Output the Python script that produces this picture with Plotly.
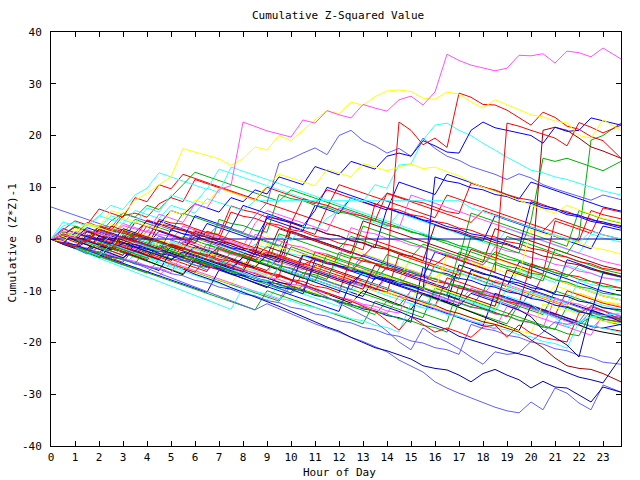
import plotly.graph_objects as go

hours = [h / 2 for h in range(47)] + [23.75]
y_ticks = [-40, -30, -20, -10, 0, 10, 20, 30, 40]
x_ticks = list(range(24))

RED = "#ff0000"; GRN = "#00b000"; BLU = "#0000ff"; MAG = "#ff50ff"; CYN = "#30ffff"
YEL = "#ffff00"; DRD = "#a00000"; DBL = "#0000b0"; SLT = "#6060ff"; BLK = "#000000"

b01 = [0,1.5,0.7,3.2,2.4,1.6,4.5,5.0, 4.2,6.8,8.0,7.2,11.5,10.7,9.9,9.1, 8.3,7.5,10.0,9.2,8.4,7.6,6.8,9.5, 8.7,7.9,7.1,6.3,8.8,8.0,7.2,6.4, 5.6,4.8,4.0,3.2,5.5,4.7,3.9,3.1, 2.3,1.5,4.0,3.2,2.4,1.6,0.8,0.0]
b02 = [0,-0.6,1.0,0.3,2.5,1.8,1.0,3.8, 3.0,2.2,1.4,5.0,4.2,3.4,2.6,1.8, 1.0,0.2,-0.6,-1.4,1.5,0.7,-0.1,-0.9, -1.7,0.5,-0.3,-1.1,-1.9,-2.7,-3.5,-1.0, -1.8,-2.6,-3.4,-4.2,-5.0,-2.5,-3.3,-4.1, -4.9,-5.7,-6.5,-7.3,-5.0,-5.8,-6.6,-7.4]
b03 = [0,-0.9,-1.7,-2.5,-1.0,-1.8,-2.6,-3.4, -0.5,-1.3,-2.1,-2.9,-3.7,-4.5,-5.3,-6.1, -3.5,-4.3,-5.1,-5.9,-6.7,-3.0,-3.8,-4.6, -5.4,-6.2,-7.0,-7.8,-5.5,-6.3,-7.1,-7.9, -8.7,-9.5,-6.0,-6.8,-7.6,-8.4,-9.2,-4.5, -5.3,-6.1,-6.9,-7.7,-8.5,-9.3,-10.1,-10.9]
b04 = [0,0.9,0.1,-0.7,-1.5,0.6,-0.2,-1.0, -1.8,-2.6,-0.8,-1.6,-2.4,-3.2,-4.0,-4.8, -2.0,-2.8,-3.6,-4.4,-5.2,-6.0,-3.5,-4.3, -5.1,-5.9,-6.7,-7.5,-8.3,-9.1,-6.0,-6.8, -7.6,-8.4,-9.2,-10.0,-10.8,-8.0,-8.8,-9.6, -10.4,-11.2,-12.0,-12.8,-10.5,-11.3,-12.1,-12.9]
b05 = [0,-1.0,-1.8,-2.6,-3.4,-4.2,-5.0,-3.0, -3.8,-4.6,-5.4,-6.2,-7.0,-7.8,-8.6,-9.4, -10.2,-11.0,-11.8,-9.0,-9.8,-10.6,-11.4,-12.2, -13.0,-8.5,-9.3,-10.1,-10.9,-11.7,-12.5,-13.3, -10.0,-10.8,-11.6,-12.4,-13.2,-14.0,-9.5,-10.3, -11.1,-11.9,-12.7,-13.5,-14.3,-12.0,-12.8,-13.6]
b06 = [0,0.6,-0.2,-1.0,1.8,1.0,0.2,-0.6, -1.4,-2.2,-3.0,-0.5,-1.3,-2.1,-2.9,-3.7, -4.5,-5.3,-6.1,-3.5,-4.3,-5.1,-5.9,-6.7, -7.5,-8.3,-9.1,-9.9,-7.0,-7.8,-8.6,-9.4, -10.2,-11.0,-11.8,-12.6,-13.4,-14.2,-15.0,-12.0, -12.8,-13.6,-14.4,-15.2,-16.0,-16.8,-17.2,-17.8]
b07 = [0,0.5,2.0,1.2,0.4,3.0,2.2,1.4, 0.6,-0.2,-1.0,2.5,1.7,0.9,0.1,-0.7, -1.5,-2.3,0.5,-0.3,-1.1,-1.9,-2.7,-3.5, -4.3,-2.0,-2.8,-3.6,-4.4,-5.2,-6.0,-6.8, -7.6,-5.0,-5.8,-6.6,-7.4,-8.2,-9.0,-9.8, -10.6,-11.4,-9.0,-9.8,-10.6,-11.4,-12.2,-12.5]
b08 = [0,-0.7,-1.4,0.5,-0.3,-1.1,-1.9,-2.7, -3.5,-1.2,-2.0,-2.8,-3.6,-4.4,-5.2,-6.0, -6.8,-7.6,-8.4,-5.5,-6.3,-7.1,-7.9,-8.7, -9.5,-10.3,-11.1,-7.5,-8.3,-9.1,-9.9,-10.7, -11.5,-12.3,-5.0,-5.8,-6.6,-7.4,-8.2,-9.0, -9.8,-10.6,-11.4,-12.2,-13.0,-13.8,-14.6,-15.2]
b09 = [6.2,5.4,4.6,3.8,3.0,2.2,5.0,4.2, 3.4,2.6,1.8,1.0,0.2,-0.6,-1.4,2.0, 1.2,0.4,-0.4,-1.2,-2.0,-2.8,-3.6,-4.4, -5.2,-6.0,-3.0,-3.8,-4.6,-5.4,-6.2,-7.0, -7.8,-8.6,-9.4,-10.2,-11.0,-11.8,-12.6,-13.4, -10.0,-10.8,-11.6,-12.4,-13.2,-14.0,-14.8,-15.5]
b10 = [0,-0.5,-1.3,-2.1,-2.9,-3.7,-4.5,-1.5, -2.3,-3.1,-3.9,-4.7,-5.5,-6.3,-2.0,-2.8, -3.6,-4.4,-5.2,-6.0,-6.8,-7.6,-2.5,-3.3, -4.1,-4.9,-5.7,-6.5,-7.3,-8.1,-8.9,-9.7, -5.0,-5.8,-6.6,-7.4,-8.2,-9.0,-9.8,-10.6, -11.4,-7.0,-7.8,-8.6,-9.4,-10.2,-11.0,-11.8]
b11 = [0,1.3,0.5,-0.3,-1.1,-1.9,-2.7,-3.5, -4.3,-5.1,-5.9,-6.7,-4.0,-4.8,-5.6,-6.4, -7.2,-8.0,-8.8,-9.6,-10.4,-6.5,-7.3,-8.1, -8.9,-9.7,-10.5,-11.3,-12.1,-12.9,-10.0,-10.8, -11.6,-12.4,-13.2,-14.0,-14.8,-15.6,-16.4,-12.5, -13.3,-14.1,-14.9,-15.7,-16.5,-15.0,-15.8,-16.6]
b12 = [0,2.0,1.2,0.4,-0.4,-1.2,-2.0,1.0, 0.2,3.5,2.7,1.9,1.1,0.3,-0.5,-1.3, -2.1,-2.9,-3.7,-4.5,1.5,0.7,-0.1,-0.9, -1.7,-2.5,-3.3,-4.1,-4.9,-5.7,-6.5,-7.3, -2.5,-3.3,-4.1,-4.9,-5.7,-6.5,-7.3,-8.1, -8.9,-9.7,-10.5,-4.0,-4.8,-5.6,-6.4,-7.2]
b13 = [0,1.8,3.5,2.7,5.8,5.0,4.2,8.0, 7.2,10.5,9.7,12.5,11.7,10.9,10.1,9.3, 8.5,7.7,6.9,6.1,5.3,4.5,3.7,2.9, 2.1,1.3,0.5,-0.3,-1.1,-1.9,-2.7,-3.5, -4.3,-5.1,-5.9,-6.7,-7.5,-8.3,-9.1,-9.9, -10.7,-11.5,-12.3,-13.1,-13.9,-14.7,-15.5,-16.0]
b14 = [0,3.3,2.5,1.7,4.5,6.5,5.7,8.5, 9.8,12.8,12.0,11.2,10.4,9.6,13.5,12.7, 11.9,11.1,10.3,9.5,8.7,7.9,7.1,6.3, 5.5,4.7,3.9,3.1,2.3,5.0,4.2,3.4, 2.6,1.8,1.0,0.2,-0.6,-1.4,2.0,1.2, 0.4,-0.4,-1.2,-2.0,-2.8,1.0,0.2,-0.6]
b15 = [0,-0.6,1.5,0.7,-0.1,-0.9,-1.7,-2.5, 0.5,-0.3,-1.1,-1.9,2.0,1.2,0.4,-0.4, -1.2,-2.0,-2.8,-3.6,-4.4,-5.2,-6.0,-6.8, -7.6,-8.4,-9.2,-10.0,-7.5,-8.3,-9.1,-9.9, -10.7,-11.5,-12.3,-9.5,-10.3,-11.1,-11.9,-12.7, -13.5,-14.3,-15.1,-15.9,-16.7,-17.5,-15.0,-15.8]
b16 = [0,0.8,2.5,1.7,0.9,3.5,5.0,4.2, 6.5,5.7,8.2,10.5,12.9,12.1,11.3,10.5, 9.7,8.9,8.1,7.3,9.5,8.7,7.9,7.1, 6.3,5.5,4.7,3.9,3.1,2.3,1.5,0.7, -0.1,-0.9,-1.7,-2.5,-3.3,-4.1,0.5,-0.3, -1.1,-1.9,-2.7,-3.5,-4.3,-5.1,-5.9,-6.7]
b17 = [0,-0.9,-1.8,-2.7,-3.6,-1.5,-2.4,-3.3, -4.2,-5.1,-6.0,-6.9,-4.0,-4.9,-5.8,-6.7, -7.6,-8.5,-9.4,-7.0,-7.9,-8.8,-9.7,-10.6, -11.5,-12.4,-10.0,-10.9,-11.8,-12.7,-13.6,-10.5, -11.4,-12.3,-13.2,-14.1,-15.0,-15.9,-16.8,-17.7, -13.0,-13.9,-14.8,-15.7,-16.6,-17.5,-18.0,-18.6]
b18 = [0,1.0,0.2,2.2,1.4,0.6,-0.2,3.2, 2.4,1.6,0.8,0.0,4.5,3.7,2.9,2.1, 6.5,5.7,4.9,4.1,3.3,2.5,5.5,10.0, 9.2,8.4,7.6,6.8,6.0,5.2,4.4,3.6, 2.8,2.0,1.2,0.4,-0.4,4.5,3.7,2.9, 2.1,1.3,0.5,-0.3,-1.1,-1.9,2.5,1.7]
b19 = [0,-0.5,-1.3,-2.1,0.5,-0.3,-1.1,-1.9, -2.7,-3.5,-4.3,-1.0,-1.8,-2.6,-3.4,-4.2, -5.0,-5.8,-6.6,-7.4,2.5,1.7,0.9,6.0, 10.5,9.7,8.9,8.1,7.3,6.5,5.7,4.9, 4.1,8.5,7.7,6.9,6.1,5.3,4.5,3.7, 2.9,2.1,1.3,0.5,-0.3,5.5,4.7,3.9]
b20 = [0,-1.0,-1.8,-2.6,-3.4,-4.2,-5.0,-5.8, -6.6,-4.0,-4.8,-5.6,-6.4,-7.2,-8.0,-8.8, -9.6,-10.4,-11.2,-12.0,-9.0,-9.8,-10.6,-11.4, -12.2,-13.0,-13.8,-14.6,-12.0,-12.8,-13.6,-14.4, -15.2,-16.0,-9.0,-9.8,-10.6,-11.4,-12.2,-13.0, -13.8,-14.6,-10.0,-10.8,-11.6,-12.4,-13.2,-14.0]
b21 = [0,0.7,-0.1,-0.9,1.5,0.7,3.0,2.2, 1.4,0.6,-0.2,2.5,1.7,0.9,0.1,-0.7, -1.5,3.0,5.5,4.7,3.9,3.1,2.3,1.5, 6.0,5.2,4.4,3.6,2.8,2.0,8.5,7.7, 6.9,6.1,5.3,4.5,3.7,2.9,2.1,1.3, 0.5,-0.3,-1.1,-1.9,-2.7,-3.5,-4.3,-5.1]
b22 = [0,-0.8,-1.6,0.5,-0.3,-1.1,-1.9,-2.7, -3.5,-4.3,-1.0,-1.8,-2.6,-3.4,-4.2,-5.0, -5.8,-2.5,-3.3,-4.1,-4.9,-5.7,-6.5,-7.3, -4.0,-4.8,-5.6,-6.4,-7.2,-8.0,-3.5,-4.3, -5.1,-5.9,-6.7,-7.5,-8.3,-9.1,-9.9,-6.0, -6.8,-7.6,-8.4,-5.0,-5.8,-6.6,-7.4,-8.2]
b23 = [0,-0.9,-1.7,-2.5,-3.3,-4.1,-1.5,-2.3, -3.1,-3.9,-4.7,-5.5,-6.3,-7.1,-7.9,-8.7, -5.5,-6.3,-7.1,-7.9,-8.7,-9.5,-10.3,-11.1, -7.0,-7.8,-8.6,-9.4,-10.2,-11.0,-11.8,-8.5, -9.3,-10.1,-10.9,-11.7,-12.5,-13.3,-9.0,-9.8, -10.6,-11.4,-12.2,-13.0,-10.5,-11.3,-12.1,-12.9]
b24 = [0,0.8,0.0,-0.8,2.0,1.2,0.4,-0.4, -1.2,1.5,0.7,-0.1,-0.9,3.0,2.2,1.4, 0.6,-0.2,4.0,3.2,2.4,1.6,6.5,5.7, 4.9,8.0,7.2,6.4,5.6,11.0,10.2,9.4, 8.6,12.5,11.7,10.9,10.1,9.3,8.5,7.7, 11.0,10.2,9.4,8.6,7.8,7.0,6.2,5.4]
b25 = [0,-0.6,-1.4,-2.2,-3.0,-0.8,-1.6,-2.4, -3.2,-4.0,-4.8,-5.6,-6.4,-3.5,-4.3,-5.1, -5.9,-6.7,-7.5,-8.3,-9.1,-9.9,-5.0,-5.8, -6.6,-7.4,-8.2,-9.0,-9.8,-10.6,-11.4,-12.2, -13.0,-7.5,-8.3,-9.1,-9.9,-10.7,-11.5,-12.3, -13.1,-13.9,-14.7,-10.0,-10.8,-11.6,-12.4,-13.2]
b26 = [0,0.9,0.1,-0.7,-1.5,-2.3,-3.1,-0.5, -1.3,-2.1,-2.9,-3.7,-4.5,-5.3,-1.0,-1.8, -2.6,-3.4,-4.2,-5.0,-5.8,-6.6,-7.4,-8.2, -9.0,-9.8,-6.0,-6.8,-7.6,-8.4,-9.2,-10.0, -10.8,-11.6,-12.4,-13.2,-10.0,-10.8,-11.6,-12.4, -13.2,-14.0,-14.8,-15.6,-16.4,-14.0,-14.8,-15.6]
b27 = [0,0.5,-0.3,-1.1,-1.9,1.0,0.2,-0.6, -1.4,-2.2,-3.0,0.5,-0.3,-1.1,-1.9,-2.7, -3.5,-4.3,-5.1,1.0,0.2,-0.6,-1.4,-2.2, -3.0,-3.8,2.5,1.7,0.9,0.1,-0.7,-1.5, -2.3,-3.1,-3.9,5.0,4.2,3.4,2.6,1.8, 1.0,0.2,-0.6,-1.4,5.5,4.7,3.9,3.1]
b28 = [0,-0.8,-1.6,-2.4,-3.2,-4.0,-4.8,-5.6, -6.4,-7.2,-4.5,-5.3,-6.1,-6.9,-7.7,-8.5, -9.3,-10.1,-10.9,-11.7,-8.0,-8.8,-9.6,-10.4, -11.2,-12.0,-12.8,-13.6,-14.4,-11.0,-11.8,-12.6, -13.4,-14.2,-15.0,-15.8,-16.6,-17.4,-13.0,-13.8, -14.6,-15.4,-16.2,-17.0,-17.8,-18.6,-14.5,-15.3]
b29 = [0,1.2,0.4,-0.4,-1.2,2.5,1.7,0.9, 0.1,-0.7,-1.5,-2.3,1.5,0.7,-0.1,-0.9, -1.7,-2.5,-3.3,2.0,1.2,0.4,-0.4,-1.2, -2.0,-2.8,3.5,2.7,1.9,1.1,0.3,-0.5, -1.3,-2.1,-2.9,-3.7,-4.5,2.0,1.2,0.4, -0.4,-1.2,-2.0,-2.8,-3.6,-4.4,-5.2,-6.0]
b30 = [0,-0.7,-1.5,-2.3,-3.1,-3.9,-4.7,-5.5, -6.3,-7.1,-7.9,-8.7,-9.5,-10.3,-6.0,-6.8, -7.6,-8.4,-9.2,-10.0,-10.8,-11.6,-12.4,-13.2, -14.0,-8.0,-8.8,-9.6,-10.4,-11.2,-12.0,-12.8, -13.6,-14.4,-15.2,-16.0,-16.8,-10.5,-11.3,-12.1, -12.9,-13.7,-14.5,-15.3,-16.1,-16.9,-17.2,-16.5]
b31 = [0,1.5,0.7,3.0,2.2,4.5,3.7,2.9, 6.0,5.2,8.5,7.7,6.9,9.8,9.0,13.9, 13.1,12.3,11.5,10.7,9.9,9.1,8.3,7.5, 6.7,5.9,5.1,4.3,3.5,2.7,1.9,1.1, 0.3,-0.5,-1.3,-2.1,-2.9,-3.7,-4.5,-5.3, -6.1,-6.9,-7.7,-8.5,-9.3,-10.1,-10.9,-11.7]
b32 = [0,-0.7,1.0,0.2,-0.6,-1.4,-2.2,-3.0, -0.5,-1.3,-2.1,-2.9,-3.7,1.5,0.7,-0.1, -0.9,-1.7,-2.5,-3.3,-4.1,-4.9,-5.7,-3.0, -3.8,-4.6,-5.4,-6.2,-7.0,-7.8,-3.5,-4.3, -5.1,-5.9,-6.7,-7.5,-3.0,-3.8,-4.6,-5.4, -6.2,-7.0,-7.8,-8.6,-9.4,-10.2,-11.0,-11.8]
b33 = [0,-0.8,-1.6,-2.4,0.2,-0.6,-1.4,-2.2, -3.0,-3.8,-1.0,-1.8,-2.6,-3.4,-4.2,-5.0, -5.8,-1.5,-2.3,-3.1,-3.9,-4.7,-5.5,-6.3, -7.1,-7.9,-8.7,-9.5,-10.3,-3.0,-3.8,-4.6, -5.4,-6.2,-7.0,-2.0,-2.8,-3.6,-4.4,-5.2, -6.0,-6.8,3.5,2.7,1.9,1.1,6.0,5.2]
b34 = [0,-0.9,-1.7,-2.5,-3.3,-4.1,-4.9,-5.7, -6.5,-7.3,-8.1,-8.9,-9.7,-10.5,-11.3,-12.1, -12.9,-13.7,-10.0,-10.8,-11.6,-12.4,-13.2,-14.0, -14.8,-15.6,-16.4,-12.0,-12.8,-13.6,-14.4,-15.2, -9.5,-10.3,-11.1,-11.9,-12.7,-13.5,-14.3,-15.1, -15.9,-16.7,-17.5,-13.0,-13.8,-14.6,-15.4,-16.2]

e01 = [0,0.4,-0.5,-0.9,2.6,1.9,1.5,0.6, -0.1,3.8,3.1,2.9,2.0,1.2,0.9,6.4, 5.6,5.1,4.2,3.9,3.0,7.8,7.1,6.5, 5.6,4.9,4.4,3.5,8.9,8.2,7.4,7.0, 6.1,5.3,4.9,10.8,10.0,9.5,8.6,7.9, 7.5,6.6,5.8,5.3,4.4,3.9,3.0,2.6]
e02 = [0,-0.3,-1.2,1.4,0.6,0.2,-0.7,-1.1, -2.0,-2.5,1.8,1.0,0.6,-0.3,-0.8,-1.7, -2.1,-3.0,4.5,3.7,3.2,2.3,1.9,1.0, 0.6,-0.3,-0.8,-1.7,5.9,5.1,4.6,3.7, 3.3,2.4,1.9,1.0,0.6,-0.3,-0.9,-1.8, 7.2,6.4,5.9,5.0,4.6,3.7,3.3,2.4]
e03 = [0,1.9,1.1,0.7,-0.2,-0.6,-1.5,-1.9, 1.7,0.9,0.5,-0.4,-0.8,-1.7,-2.1,-3.0, -3.4,0.9,0.1,-0.3,-1.2,-1.6,-2.5,-2.9, -3.8,2.2,1.4,1.0,0.1,-0.3,-1.2,-1.6, -2.5,-2.9,-3.8,-4.2,-5.1,-1.5,-2.3,-2.7, -3.6,-4.0,-4.9,-5.3,-6.2,-6.6,-7.5,-7.9]
e04 = [0,-0.5,-1.4,-1.8,-2.7,-0.4,-1.2,-1.6, -2.5,-2.9,-3.8,-4.2,-5.1,-5.5,-1.8,-2.6, -3.0,-3.9,-4.3,-5.2,-5.6,-6.5,-6.9,-7.8, -2.6,-3.4,-3.8,-4.7,-5.1,-6.0,-6.4,-7.3, -7.7,-8.6,-9.0,-9.9,-10.3,-4.5,-5.3,-5.7, -6.6,-7.0,-7.9,-8.3,-9.2,-9.6,-10.5,-10.9]
e05 = [0,0.8,0.4,2.9,2.1,1.7,0.8,0.4, -0.5,-0.9,-1.8,-2.2,-3.1,-3.5,-4.4,-4.8, -5.7,-6.1,-7.0,-2.1,-2.9,-3.3,-4.2,-4.6, -5.5,-5.9,-6.8,-7.2,-8.1,-8.5,-9.4,-9.8, -5.2,-6.0,-6.4,-7.3,-7.7,-8.6,-9.0,-9.9, -10.3,-11.2,-11.6,-12.5,-8.0,-8.8,-9.2,-10.1]
e06 = [0,-0.9,-1.3,-2.2,-2.6,-3.5,-3.9,-4.8, -5.2,-6.1,-2.4,-3.2,-3.6,-4.5,-4.9,-5.8, -6.2,-7.1,-7.5,-8.4,-8.8,-3.1,-3.9,-4.3, -5.2,-5.6,-6.5,-6.9,-7.8,-8.2,-9.1,-9.5, -10.4,-10.8,-11.7,-6.0,-6.8,-7.2,-8.1,-8.5, -9.4,-9.8,-10.7,-11.1,-12.0,-12.4,-13.3,-13.7]
e07 = [0,0.3,-0.6,-1.0,-1.9,-2.3,-3.2,0.8, 0.0,-0.4,-1.3,-1.7,-2.6,-3.0,-3.9,-4.3, -5.2,-5.6,-6.5,-6.9,-7.8,-8.2,-9.1,-9.5, -10.4,-3.5,-4.3,-4.7,-5.6,-6.0,-6.9,-7.3, -8.2,-8.6,-9.5,-9.9,-10.8,-11.2,-12.1,-12.5, -4.8,-5.6,-6.0,-6.9,-7.3,-8.2,-8.6,-9.5]
e08 = [0,-0.8,-1.2,1.6,0.8,0.4,-0.5,-0.9, -1.8,-2.2,-3.1,-3.5,-4.4,-4.8,-5.7,-6.1, -7.0,-7.4,-8.3,-8.7,-9.6,-10.0,-10.9,-11.3, -12.2,-12.6,-9.2,-10.0,-10.4,-11.3,-11.7,-12.6, -13.0,-13.9,-14.3,-15.2,-15.6,-16.5,-16.9,-17.8, -18.2,-12.5,-13.3,-13.7,-14.6,-15.0,-15.9,-16.3]
e09 = [0,-0.6,-1.5,-1.9,-2.8,-3.2,-4.1,-4.5, -5.4,-5.8,-6.7,-7.1,-8.0,-8.4,-9.3,-9.7, -10.6,-11.0,-11.9,-12.3,-13.2,-13.6,-14.5,-14.9, -15.8,-16.2,-17.1,-17.5,-18.4,-18.8,-19.7,-20.1, -21.0,-21.4,-22.3,-16.5,-17.3,-17.7,-18.6,-19.0, -19.9,-20.3,-21.2,-21.6,-22.5,-22.9,-23.8,-24.2]
e10 = [0,0.6,-0.3,-0.7,-1.6,1.9,1.1,0.7, -0.2,-0.6,-1.5,-1.9,-2.8,-3.2,3.8,3.0, 2.6,1.7,1.3,8.6,7.8,7.4,6.5,6.1, 5.2,4.8,3.9,3.5,2.6,2.2,1.3,0.9, 0.0,-0.4,-1.3,-1.7,-2.6,-3.0,-3.9,-4.3, -5.2,-5.6,-6.5,-6.9,-7.8,-8.2,-9.1,-9.5]
e11 = [0,-0.8,-1.2,-2.1,-2.5,-3.4,-3.8,-1.0, -1.8,-2.2,-3.1,-3.5,-4.4,-4.8,-5.7,-6.1, -7.0,-7.4,-8.3,-8.7,-9.6,-10.0,-10.9,-11.3, -12.2,-12.6,-13.5,-13.9,-14.8,-15.2,-16.1,-5.5, -6.3,-6.7,-7.6,-8.0,-8.9,-9.3,-10.2,-10.6, -11.5,-11.9,-12.8,-13.2,-14.1,-14.5,-6.5,-7.3]
e12 = [0,1.1,0.3,-0.1,2.4,1.6,1.2,0.3, 3.7,2.9,2.5,1.6,1.2,0.3,-0.1,5.2, 4.4,4.0,3.1,2.7,1.8,1.4,0.5,0.1, -0.8,-1.2,-2.1,6.8,6.0,5.6,4.7,4.3, 3.4,3.0,2.1,1.7,0.8,0.4,-0.5,-0.9, -1.8,-2.2,-3.1,-3.5,-4.4,-4.8,-5.7,-6.1]
e13 = [0,-0.4,-1.3,-1.7,-2.6,-3.0,-3.9,-4.3, -5.2,-5.6,-6.5,-2.7,-3.5,-3.9,-4.8,-5.2, -6.1,-6.5,-7.4,-7.8,-8.7,-9.1,-10.0,-10.4, -11.3,-11.7,-12.6,-13.0,-13.9,-14.3,-9.8,-10.6, -11.0,-11.9,-12.3,-13.2,-13.6,-14.5,-14.9,-15.8, -16.2,-17.1,-11.4,-12.2,-12.6,-13.5,-13.9,-14.8]
e14 = [0,-1.0,-1.9,-2.8,-3.7,-4.6,-5.5,-6.4, -7.3,-8.2,-9.1,-10.0,-10.9,-11.8,-12.7,-13.6, -9.4,-10.2,-10.6,-11.5,-11.9,-12.8,-13.2,-14.1, -14.5,-15.4,-15.8,-16.7,-17.1,-18.0,-12.5,-13.3, -13.7,-14.6,-15.0,-15.9,-16.3,-17.2,-17.6,-18.5, -18.9,-19.8,-20.2,-21.1,-16.0,-16.8,-17.2,-18.1]
e15 = [0,0.8,2.3,1.5,1.1,0.2,-0.2,-1.1, -1.5,2.9,2.1,1.7,0.8,0.4,-0.5,-0.9, -1.8,-2.2,-3.1,-3.5,3.1,2.3,1.9,1.0, 0.6,-0.3,-0.7,-1.6,-2.0,-2.9,-3.3,-4.2, 2.7,1.9,1.5,0.6,0.2,-0.7,-1.1,-2.0, -2.4,-3.3,-3.7,-4.6,-5.0,-5.9,-6.3,-7.2]
e16 = [0,-0.7,-1.1,-2.0,0.6,-0.2,-0.6,-1.5, -1.9,-2.8,-3.2,-4.1,-4.5,-5.4,-5.8,-6.7, -7.1,-8.0,-8.4,-9.3,-9.7,-10.6,-4.0,-4.8, -5.2,-6.1,-6.5,-7.4,-7.8,-8.7,-9.1,-10.0, 12.0,11.2,10.8,9.9,9.5,8.6,8.2,7.3, 6.9,6.0,5.6,4.7,4.3,3.4,3.0,2.1]
e17 = [0,0.5,-0.4,-0.8,-1.7,-2.1,1.9,1.1, 0.7,-0.2,-0.6,-1.5,-1.9,-2.8,-3.2,-4.1, -4.5,-5.4,-0.9,-1.7,-2.1,-3.0,-3.4,-4.3, -4.7,-5.6,-6.0,-6.9,-7.3,-8.2,-8.6,-9.5, -9.9,-3.2,-4.0,-4.4,-5.3,-5.7,-6.6,-7.0, 1.8,1.0,0.6,-0.3,-0.7,-1.6,-2.0,-2.9]
e18 = [0,-0.9,-1.3,-2.2,-2.6,-3.5,-3.9,-4.8, -1.6,-2.4,-2.8,-3.7,-4.1,-5.0,-5.4,-6.3, -6.7,-7.6,-8.0,-8.9,-9.3,-10.2,-10.6,-11.5, -11.9,-12.8,-13.2,-14.1,-14.5,-15.4,-15.8,-16.7, -17.1,-18.0,-12.3,-13.1,-13.5,-14.4,-14.8,-15.7, -16.1,-17.0,-17.4,-18.3,-18.7,-14.2,-15.0,-15.4]

low1 = [0,-1.0,-1.8,-2.9,-1.6,-2.7,-3.8,-4.7, -5.7,-6.6,-7.5,-8.4,-9.3,-10.2,-11.0,-12.0, -12.8,-13.7,-12.5,-13.5,-14.5,-15.5,-16.4,-17.2, -18.0,-19.0,-19.8,-20.8,-21.8,-23.4,-24.6,-25.7, -27.6,-28.8,-29.8,-30.7,-31.7,-32.5,-33.2,-33.6, -31.5,-33.0,-28.8,-29.8,-31.7,-33.0,-28.2,-29.6]
low2 = [0,0.8,-0.3,-1.2,-2.0,-2.8,-3.6,-2.2, -3.2,-4.0,-5.0,-5.8,-6.8,-7.6,-8.4,-9.4, -10.3,-11.2,-12.0,-13.0,-14.0,-15.0,-16.0,-17.0, -17.8,-19.0,-20.0,-21.0,-21.6,-22.4,-23.2,-24.5, -25.0,-25.3,-26.3,-27.6,-26.0,-25.2,-26.3,-27.2, -28.8,-27.5,-28.6,-28.8,-30.1,-31.5,-28.6,-29.6]
low3 = [0,-0.7,-1.5,0.5,-0.3,-1.1,-1.9,-2.7, -1.0,-2.0,-3.0,-4.0,-5.0,-6.0,-4.5,-5.5, -6.5,-7.5,-8.5,-9.5,-10.5,-9.0,-10.0,-11.2, -12.4,-13.6,-14.8,-16.0,-17.8,-19.9,-21.4,-17.2, -18.8,-19.9,-21.2,-22.8,-24.2,-21.8,-22.3,-22.0, -19.8,-18.0,-16.0,-16.5,-16.0,-12.8,-13.8,-15.0]
low4 = [0,-1.0,-1.8,-0.5,-1.3,-2.1,-0.8,-1.6, -2.4,-3.2,-4.0,-2.5,-3.3,-4.1,-4.9,-5.7, -3.5,-4.3,-5.1,-5.9,-6.7,-7.5,-8.3,-9.1, -9.9,-10.7,-11.5,-12.3,-13.1,-14.0,-15.0,-15.7, -16.7,-17.5,-18.8,-19.5,-20.2,-21.0,-21.6,-22.2, -22.8,-24.0,-24.8,-25.8,-26.7,-27.2,-27.8,-22.8]
low5 = [0,0.7,-0.1,1.5,0.7,-0.1,-0.9,1.2, 0.4,-0.4,-1.2,-2.0,0.5,-0.3,-1.1,-1.9, -2.7,-3.5,-1.5,-2.3,-3.1,-3.9,-4.7,-5.5, -6.3,-7.1,-7.9,-8.7,-9.5,-10.5,-11.5,-12.0, -12.8,-13.8,-14.4,-15.2,-16.0,-16.5,-17.2,-18.0, -19.5,-21.0,-23.0,-24.5,-25.0,-25.2,-26.0,-27.6]
low6 = [0,-0.8,-1.6,-2.4,-0.8,-1.6,-2.4,-3.2, -4.0,-2.0,-2.8,-3.6,-4.4,-5.2,-6.0,-4.0, -4.8,-5.6,-6.4,-7.2,-8.0,-8.8,-9.6,-10.4, -11.2,-12.0,-13.0,-14.0,-15.8,-17.6,-15.0,-16.5, -18.0,-17.2,-18.0,-19.0,-17.0,-16.6,-19.0,-16.6, -18.2,-19.0,-19.5,-19.9,-14.3,-13.1,-13.8,-15.7]
low7 = [0,1.2,0.4,-0.4,-1.2,-2.0,0.5,-0.3, -1.1,-1.9,-2.7,-3.5,-1.5,-2.3,-3.1,-3.9, -4.7,-5.5,-3.0,-3.8,-4.6,-5.4,-6.2,-7.0, -7.8,-8.6,-6.5,-7.3,-8.1,-8.9,-9.7,-10.5, -11.3,-12.1,-12.9,-10.5,-11.3,-12.1,-12.9,-13.7, -15.0,-17.6,-19.0,-20.5,-22.8,-13.7,-14.5,-16.0]
cyan_low = [0,-0.8,-1.6,-2.4,-3.2,-1.0,-1.8,-2.6, -3.4,-4.2,-5.0,-5.8,-3.5,-4.3,-5.1,-5.9, -6.7,-7.5,-8.3,-5.5,-6.3,-7.1,-7.9,-8.7, -9.5,-10.3,-8.0,-8.8,-9.6,-10.4,-11.2,-12.0, -12.8,-10.5,-11.3,-12.1,-12.9,-13.7,-11.0,-11.8, -12.6,-14.3,-15.2,-17.0,-16.0,-15.0,-14.8,-14.3]

green_r1 = [0,-0.7,-1.5,-2.3,-0.5,-1.3,-2.1,-2.9, -3.7,-1.5,-2.3,-3.1,-3.9,-4.7,-5.5,-2.5, -3.3,-4.1,-4.9,-5.7,-1.5,-2.3,-3.1,-3.9, -4.7,-5.5,-6.3,-7.1,-3.0,-3.8,-4.6,-5.4, -6.2,-7.0,-7.8,0.5,-0.3,-1.1,-1.9,-2.7, 3.5,15.6,15.0,15.6,14.8,14.0,13.2,15.0]
green_r2 = [0,0.9,0.1,-0.7,-1.5,-2.3,0.8,0.0, -0.8,-1.6,-2.4,-3.2,-4.0,-1.0,-1.8,-2.6, -3.4,-4.2,-5.0,-5.8,-6.6,-7.4,-8.2,-3.0, -3.8,-4.6,-5.4,-6.2,-7.0,-7.8,-8.6,-9.4, -10.2,-11.0,-2.5,-3.3,-4.1,-4.9,-5.7,-6.5, -7.3,-8.1,-2.0,-2.8,0.5,19.1,20.0,22.4]
darkred_r = [0,-0.8,-1.6,0.8,0.0,-0.8,-1.6,-2.4, -3.2,-4.0,-1.5,-2.3,-3.1,-3.9,-4.7,-5.5, -6.3,-2.5,-3.3,-4.1,-4.9,-5.7,-6.5,-7.3, -8.1,-8.9,-9.7,-5.0,-5.8,-6.6,-7.4,-8.2, -9.0,-9.8,-10.6,-11.4,-12.2,-13.0,-6.0,-6.8, -7.6,21.0,21.6,21.0,19.5,17.8,17.0,15.6]
zero_line = [0] * 48
cyan_flat = [0,2.5,3.3,2.5,4.5,3.8,3.0,5.5, 4.8,4.0,6.5,5.8,5.0,7.8,7.0,6.3, 5.5,7.4,7.4,7.4,7.4,7.4,7.4,7.4, 7.4,7.4,7.4,7.4,7.4,7.4,7.4,7.4, 7.4,7.4,7.4,6.0,5.3,4.5,3.8,3.0, 2.2,1.5,0.8,0.1,-0.6,1.5,0.8,0.0]
cyan_peak = [0,1.0,0.2,-0.6,-1.4,0.8,0.0,-0.8, -1.5,-2.3,-0.5,-1.3,-2.0,-2.8,-1.2,-2.0, -2.8,-1.0,-1.8,0.5,-0.3,2.5,1.7,4.0, 5.5,8.0,7.2,10.5,9.8,14.3,14.5,19.1, 22.0,22.4,21.0,20.0,18.5,17.2,15.8,14.6, 13.3,12.8,12.0,11.5,10.8,10.0,9.3,8.5]
slate_hi = [0,0.8,0.1,-0.6,1.5,0.8,0.1,-0.6, -1.3,0.5,-0.2,-0.9,1.2,0.5,2.8,2.0, 1.3,4.5,7.0,14.7,15.5,16.6,17.6,16.3, 20.0,21.0,19.0,18.0,16.6,17.5,16.0,19.5, 17.5,16.0,15.2,14.0,13.2,12.5,11.5,12.6, 11.8,10.5,9.7,9.0,8.2,7.5,8.5,7.6]
blue_hi = [0,-0.8,1.2,0.5,-0.3,-1.0,2.0,1.2, 3.5,2.8,5.5,4.7,6.8,6.0,5.2,8.0, 7.2,9.5,8.7,12.0,11.2,10.5,14.0,13.2, 12.4,15.0,14.2,13.5,16.0,16.6,16.0,19.0, 18.0,16.8,16.6,21.0,22.6,21.5,21.0,20.5, 20.0,18.5,21.6,20.8,21.0,23.4,22.8,22.0]
red_b = [0,1.0,0.3,-0.5,1.8,1.0,0.2,-0.6, 2.5,1.7,0.9,0.1,-0.7,1.5,0.7,-0.1, -0.9,-1.7,3.0,2.2,1.4,0.6,-0.2,-1.0, -1.8,-2.6,-3.4,-1.0,-1.8,-2.6,-3.4,-4.2, -5.0,-3.2,-4.0,-4.8,-5.6,-6.4,22.4,21.8, 21.0,20.2,19.5,18.0,22.5,21.6,20.5,22.0]
red_a = [0,-0.8,-1.5,-0.2,-1.0,-1.8,0.5,-0.3, -1.1,-2.0,-1.0,-1.8,-2.6,-3.4,-1.5,-2.4, -3.2,-4.0,-2.5,-3.3,-4.1,-5.0,-3.8,-4.6, -5.4,-6.2,-4.0,-4.8,-5.8,22.6,21.0,18.2, 19.5,17.7,28.2,27.4,26.0,25.9,24.9,23.5, 22.0,24.5,23.5,21.8,21.2,19.8,19.0,15.6]
yellow_mid = [0,1.2,0.5,2.8,2.1,1.4,4.0,3.2, 2.5,1.8,5.5,4.7,7.5,6.8,9.8,9.0, 8.2,7.5,10.5,12.5,11.8,11.0,10.3,13.5, 12.8,12.0,14.6,13.9,13.2,13.9,14.5,13.6, 13.9,13.0,12.2,11.0,10.0,9.2,8.4,7.5, 6.5,5.8,5.0,6.5,5.6,4.8,4.0,3.2]
yellow_top = [0,-0.5,1.5,3.0,2.4,5.5,4.8,7.5, 8.8,10.5,12.0,17.5,16.8,16.2,15.5,14.2, 15.5,17.8,17.2,20.0,19.0,21.0,23.0,24.8, 24.2,26.5,25.8,27.5,28.6,28.8,28.5,27.2, 27.0,28.4,28.0,26.5,25.3,26.9,26.0,25.0, 24.0,23.6,22.8,22.4,20.0,19.5,23.0,21.0]
magenta_top = [0,0.8,0.2,1.8,1.0,0.4,2.6,2.0, 1.3,4.8,4.0,3.2,6.8,6.0,9.6,10.3, 22.6,21.8,20.9,20.3,19.7,23.0,22.4,24.8, 24.0,23.4,26.0,25.3,24.7,26.9,27.6,25.9, 28.4,35.7,34.5,33.6,33.0,32.5,33.0,35.5, 35.4,35.8,34.0,36.3,36.0,35.2,36.9,34.8]

series = [
    (b01, RED), (b02, GRN), (b03, BLU), (b04, MAG), (b05, CYN), (b06, DRD), (b07, YEL),
    (b08, DBL), (b09, SLT), (b10, RED), (b11, GRN), (b12, BLU), (b13, RED), (b14, CYN),
    (b15, MAG), (b16, GRN), (b17, BLK), (b18, BLU), (b19, RED), (b20, GRN), (b21, MAG),
    (b22, CYN), (b23, YEL), (b24, BLU), (b25, RED), (b26, SLT), (b27, GRN), (b28, MAG),
    (b29, DRD), (b30, BLU), (b31, CYN), (b32, YEL), (b33, RED), (b34, GRN),
    (e01, RED), (e02, BLU), (e03, MAG), (e04, GRN), (e05, CYN), (e06, DBL), (e07, RED),
    (e08, YEL), (e09, SLT), (e10, GRN), (e11, BLU), (e12, RED), (e13, MAG), (e14, CYN),
    (e15, DRD), (e16, BLU), (e17, YEL), (e18, GRN),
    (low1, SLT), (low2, DBL), (low3, SLT), (low4, DBL), (low5, DRD), (low6, RED),
    (low7, DBL), (cyan_low, CYN), (green_r1, GRN), (green_r2, GRN), (darkred_r, DRD),
    (zero_line, DBL), (cyan_flat, CYN), (cyan_peak, CYN), (slate_hi, SLT), (blue_hi, BLU),
    (red_b, RED), (red_a, RED), (yellow_mid, YEL), (yellow_top, YEL), (magenta_top, MAG),
]

fig = go.Figure()
for vals, col in series:
    fig.add_trace(go.Scatter(x=hours[:len(vals)], y=vals, mode="lines",
                             line=dict(color=col, width=1), showlegend=False,
                             hoverinfo="skip"))

FONT = dict(family="DejaVu Sans Mono", size=11, color="black")
axis_common = dict(showline=True, linecolor="black", linewidth=1, mirror="ticks",
                   ticks="inside", ticklen=5, tickcolor="black", tickwidth=1,
                   showgrid=False, zeroline=False, tickfont=FONT)
fig.update_xaxes(range=[0, 23.75], tickvals=x_ticks, ticktext=[str(v) for v in x_ticks],
                 ticklabelstandoff=1, **axis_common)
fig.update_yaxes(range=[-40, 40], tickvals=y_ticks, ticktext=[str(v) for v in y_ticks],
                 ticklabelstandoff=6, **axis_common)

fig.update_layout(
    width=640, height=480, margin=dict(l=51, r=19, t=32, b=34, pad=0),
    paper_bgcolor="white", plot_bgcolor="white", font=FONT,
    annotations=[
        dict(text="Cumulative Z-Squared Value", xref="paper", yref="paper",
             x=0.5035, y=1.041, xanchor="center", yanchor="middle", showarrow=False, font=FONT),
        dict(text="Hour of Day", xref="paper", yref="paper",
             x=0.507, y=-0.065, xanchor="center", yanchor="middle", showarrow=False, font=FONT),
        dict(text="Cumulative (Z*Z)-1", xref="paper", yref="paper", textangle=-90,
             x=-0.068, y=0.49, xanchor="center", yanchor="middle", showarrow=False, font=FONT),
    ],
)
fig.write_html("out.html")
